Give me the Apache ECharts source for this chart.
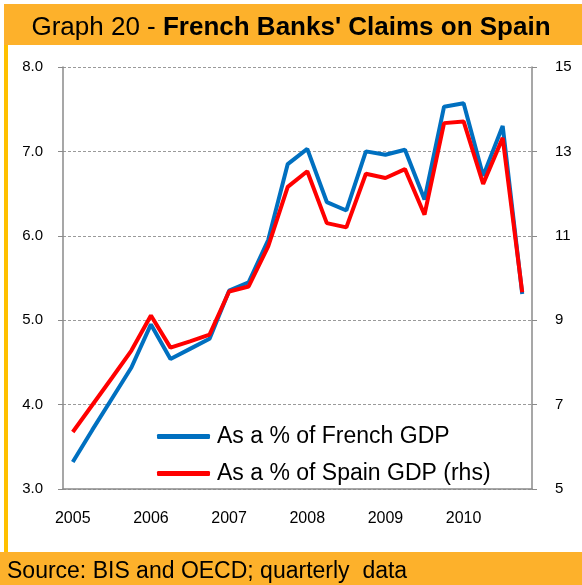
<!DOCTYPE html>
<html>
<head>
<meta charset="utf-8">
<script src="https://cdn.jsdelivr.net/npm/echarts@6/dist/echarts.min.js"></script>
<style>
  html, body { margin: 0; padding: 0; background: #fff; }
  #chart { width: 582px; height: 585px; }
</style>
</head>
<body>
<div id="chart"></div>
<script>
  // quarterly categories, 2005Q1 .. 2010Q4
  const years = ['2005', '2006', '2007', '2008', '2009', '2010']
  const quarters = ['Q1', 'Q2', 'Q3', 'Q4']
  const categories = []
  years.forEach(y => quarters.forEach(q => categories.push(y + ' ' + q)))

  // claims as a % of French GDP (left axis)
  const frenchGdp = [3.32, 3.70, 4.07, 4.44, 4.95, 4.54, 4.66, 4.78, 5.35, 5.45, 5.95, 6.85,
    7.03, 6.40, 6.30, 7.00, 6.96, 7.02, 6.43, 7.53, 7.57, 6.71, 7.30, 5.31]
  // claims as a % of Spain GDP (right axis)
  const spainGdp = [6.35, 6.99, 7.63, 8.28, 9.11, 8.35, 8.50, 8.66, 9.68, 9.80, 10.75, 12.16,
    12.53, 11.30, 11.20, 12.47, 12.37, 12.58, 11.50, 13.67, 13.71, 12.23, 13.32, 9.66]

  const orange = '#FDB12B'
  const axisGrey = '#8a8a8a'
  const font = 'Liberation Sans, Arial, sans-serif'

  const chart = echarts.init(document.getElementById('chart'))

  chart.setOption({
    backgroundColor: '#fff',
    animation: false,
    textStyle: { fontFamily: font },
    graphic: [
      { type: 'rect', shape: { x: 4, y: 4, width: 578, height: 41 }, style: { fill: orange }, z: -1 },
      { type: 'rect', shape: { x: 4, y: 45, width: 4, height: 507 }, style: { fill: '#FFC000' }, z: -1 },
      { type: 'rect', shape: { x: 0, y: 552, width: 582, height: 33 }, style: { fill: orange }, z: -1 },
      {
        type: 'text', left: 7, top: 560,
        style: { text: 'Source: BIS and OECD; quarterly  data', font: '23px ' + font, fill: '#000' }
      }
    ],
    title: {
      text: '{a|Graph 20 - }{b|French Banks\' Claims on Spain}',
      left: 'center',
      top: 10,
      textStyle: {
        rich: {
          a: { fontSize: 26, fontFamily: font, fontWeight: 'normal', color: '#000' },
          b: { fontSize: 26, fontFamily: font, fontWeight: 'bold', color: '#000' }
        }
      }
    },
    legend: {
      orient: 'vertical',
      left: 152,
      top: 420,
      itemWidth: 53,
      itemHeight: 5,
      itemGap: 14,
      icon: 'roundRect',
      textStyle: { fontSize: 23, color: '#000', fontFamily: font, padding: [0, 0, 0, 2] },
      data: ['As a % of French GDP', 'As a % of Spain GDP (rhs)']
    },
    grid: {
      left: 63,
      right: 50,
      top: 67,
      bottom: 96
    },
    xAxis: {
      type: 'category',
      data: categories,
      boundaryGap: true,
      axisLine: { lineStyle: { color: axisGrey, width: 1.5 } },
      axisTick: { interval: 0, length: 5, lineStyle: { color: axisGrey, width: 1.5 } },
      axisLabel: {
        interval: 3,
        margin: 22,
        fontSize: 16,
        color: '#000',
        formatter: v => v.slice(0, 4)
      }
    },
    yAxis: [{
      type: 'value',
      min: 3,
      max: 8,
      interval: 1,
      axisLine: { show: true, lineStyle: { color: axisGrey, width: 1.5 } },
      axisTick: { show: true, length: 5, lineStyle: { color: axisGrey, width: 1 } },
      axisLabel: { fontSize: 15, color: '#000', margin: 20, formatter: v => v.toFixed(1) },
      splitLine: { lineStyle: { color: '#9a9a9a', type: [3, 2], width: 1 } }
    }, {
      type: 'value',
      min: 5,
      max: 15,
      interval: 2,
      position: 'right',
      axisLine: { show: true, lineStyle: { color: axisGrey, width: 1.5 } },
      axisTick: { show: true, length: 5, lineStyle: { color: axisGrey, width: 1 } },
      axisLabel: { fontSize: 15, color: '#000', margin: 23 },
      splitLine: { show: false }
    }],
    series: [{
      name: 'As a % of French GDP',
      type: 'line',
      data: frenchGdp,
      yAxisIndex: 0,
      showSymbol: false,
      symbol: 'none',
      color: '#0070C0',
      lineStyle: { width: 4, color: '#0070C0' }
    }, {
      name: 'As a % of Spain GDP (rhs)',
      type: 'line',
      data: spainGdp,
      yAxisIndex: 1,
      showSymbol: false,
      symbol: 'none',
      color: '#FF0000',
      lineStyle: { width: 4, color: '#FF0000' }
    }]
  })
</script>
</body>
</html>
